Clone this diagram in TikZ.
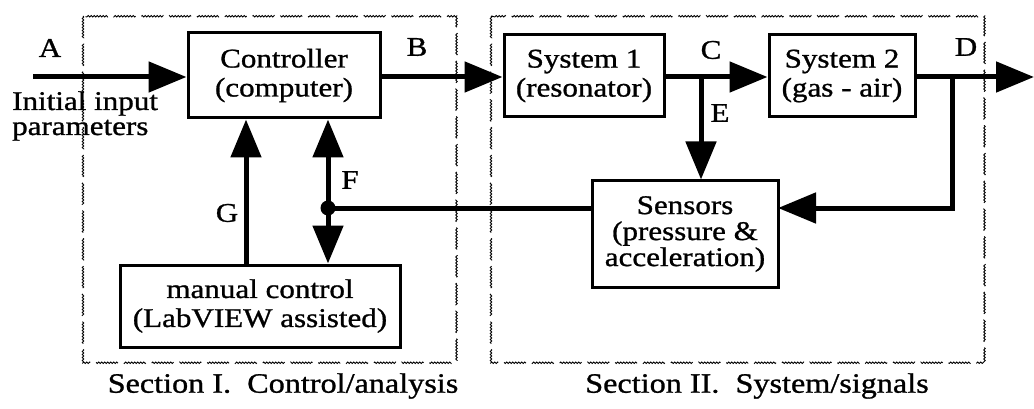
\documentclass[tikz,border=0pt]{standalone}
\usepackage{fontspec}
\setmainfont[FakeStretch=1.15,FakeBold=1]{Liberation Serif}
\usetikzlibrary{arrows.meta,decorations.pathmorphing}
\tikzset{
  blk/.style={draw, line width=3pt, align=center, inner sep=0pt},
  sig/.style={line width=5pt, -{Triangle[length=38pt,width=30pt]}},
  zone/.style={line width=0.9pt, decorate, decoration={snake, amplitude=0.7pt, segment length=3pt}, dash pattern=on 30pt off 8pt},
  tag/.style={inner sep=0pt}
}
\begin{document}
\begin{tikzpicture}[x=1pt, y=-1pt, font=\fontsize{27}{29}\selectfont, line join=miter]
\useasboundingbox (0,0) rectangle (1034,409);
% sections
\draw[zone] (83,16) rectangle (456,363);
\draw[zone] (491,16) rectangle (984,363);
\node[tag, font=\fontsize{28}{30}\selectfont] (secI) at (283,386) {Section I.\ \ Control/analysis};
\node[tag, font=\fontsize{28}{30}\selectfont] (secII) at (757,386) {Section II.\ \ System/signals};
% blocks
\node[blk, minimum width=192pt, minimum height=85pt] (ctrl) at (284,75.5) {Controller\\(computer)};
\node[blk, minimum width=160pt, minimum height=82pt] (sys1) at (584,76) {System 1\\(resonator)};
\node[blk, minimum width=146pt, minimum height=82pt] (sys2) at (842,76) {System 2\\(gas - air)};
\node[blk, minimum width=186pt, minimum height=106pt, font=\fontsize{27}{26}\selectfont] (sens) at (685,234) {Sensors\\(pressure \&\\acceleration)};
\node[blk, minimum width=280pt, minimum height=82pt] (man) at (260,306) {manual control\\(LabVIEW assisted)};
% junctions
\coordinate (in) at (33,77);
\coordinate (out) at (1034,77);
\coordinate (cE) at (701,77);
\coordinate (dB) at (952,77);
\coordinate (fb) at (778,208);
\coordinate (fdot) at (328,208);
\coordinate (g) at (246,265);
% signals
\draw[sig] (in) -- (in -| ctrl.west);
\draw[sig] (ctrl.east |- in) -- (in -| sys1.west);
\draw[sig] (sys1.east |- in) -- (in -| sys2.west);
\draw[sig] (sys2.east |- in) -- (out);
\draw[sig] (cE) -- (cE |- sens.north);
\draw[sig] (dB) |- (fb);
\draw[line width=5pt] (fb -| sens.west) -- (fdot);
\fill (fdot) circle (7.5);
\draw[sig] (fdot) -- (fdot |- ctrl.south);
\draw[sig] (fdot) -- (fdot |- man.north);
\draw[sig] (g) -- (g |- ctrl.south);
% labels
\node[tag] (lA) at (50,48) {A};
\node[tag] (lB) at (417,47) {B};
\node[tag] (lC) at (711,50) {C};
\node[tag] (lD) at (966,47) {D};
\node[tag] (lE) at (720,113) {E};
\node[tag] (lF) at (350,180) {F};
\node[tag] (lG) at (227,213) {G};
\node[tag, align=left, anchor=base west, font=\fontsize{27}{25}\selectfont] (init) at (12,135) {Initial input\\parameters};
\end{tikzpicture}
\end{document}
